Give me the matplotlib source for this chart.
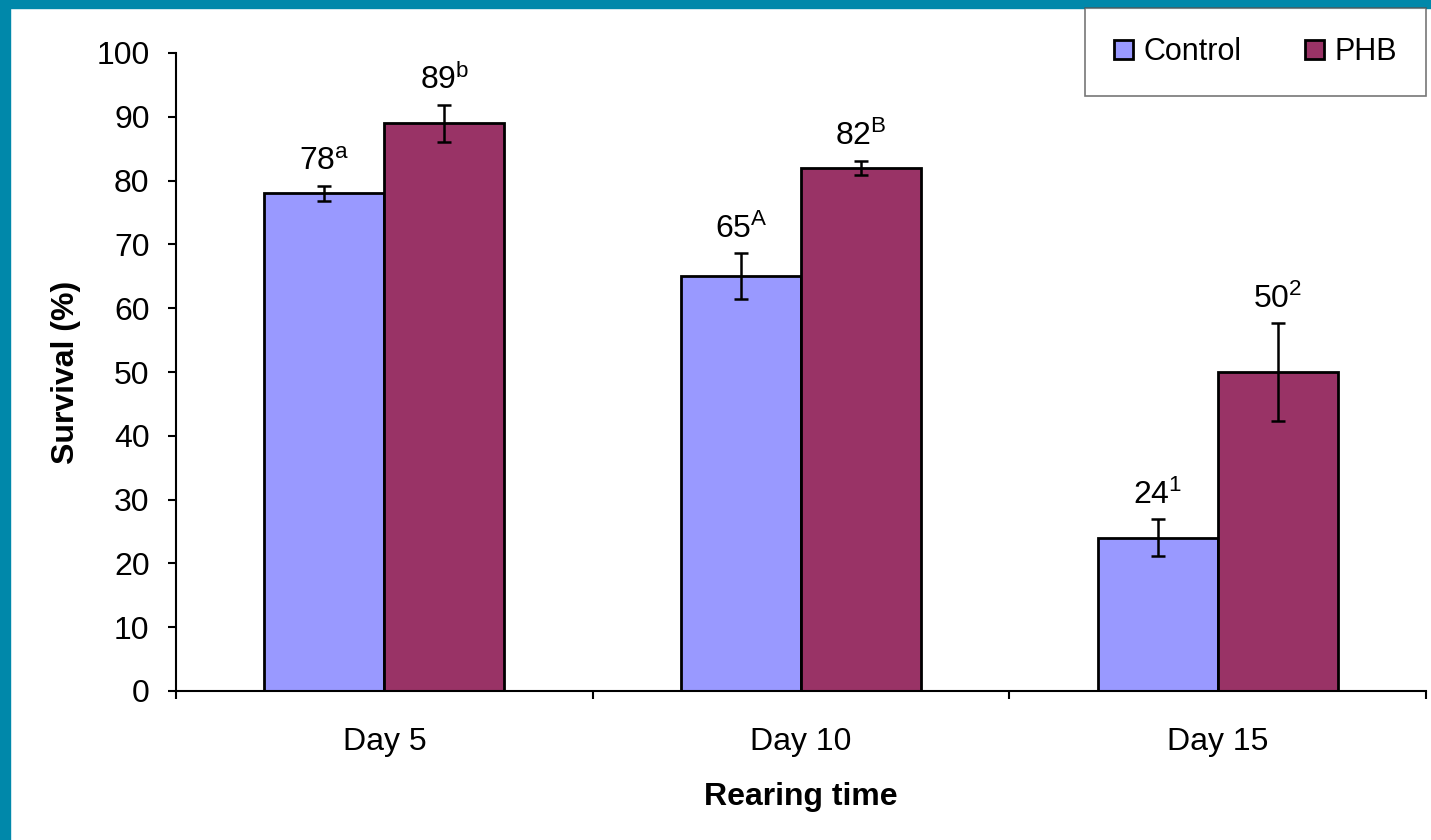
import numpy as np
import matplotlib
matplotlib.use("Agg")
from matplotlib import pyplot as plt
from matplotlib.patches import Rectangle

plt.rcParams['font.family'] = ['Liberation Sans', 'DejaVu Sans']
plt.rcParams['mathtext.fontset'] = 'custom'
plt.rcParams['mathtext.rm'] = 'Liberation Sans'
plt.rcParams['mathtext.it'] = 'Liberation Sans'

# survival data per rearing day
days = ['Day 5', 'Day 10', 'Day 15']
control = [78, 65, 24]
phb = [89, 82, 50]
control_err = [1.2, 3.6, 2.9]
phb_err = [2.9, 1.1, 7.7]
control_marks = ['a', 'A', '1']
phb_marks = ['b', 'B', '2']

fig = plt.figure(figsize=(14.31, 8.40), dpi=100)
ax = fig.add_axes([176 / 1431, 149 / 840, 1250 / 1431, 638 / 840])

# frame band on top and left
teal = '#0088AA'
fig.patches.append(Rectangle((0, 1 - 8 / 840), 1, 8 / 840, transform=fig.transFigure,
                             color=teal, zorder=0))
fig.patches.append(Rectangle((0, 0), 10 / 1431, 1, transform=fig.transFigure,
                             color=teal, zorder=0))

x = np.arange(len(days))
w = 0.288
fs = 23

b1 = ax.bar(x - w / 2, control, w, color='#9999FF', edgecolor='black', linewidth=2,
            label='Control', zorder=2)
b2 = ax.bar(x + w / 2, phb, w, color='#993366', edgecolor='black', linewidth=2,
            label='PHB', zorder=2)
ax.errorbar(x - w / 2, control, yerr=control_err, fmt='none', ecolor='black',
            elinewidth=1.8, capsize=5, capthick=1.8, zorder=3)
ax.errorbar(x + w / 2, phb, yerr=phb_err, fmt='none', ecolor='black',
            elinewidth=1.8, capsize=5, capthick=1.8, zorder=3)

for xs, vals, errs, marks in [(x - w / 2, control, control_err, control_marks),
                              (x + w / 2, phb, phb_err, phb_marks)]:
    for xi, v, e, m in zip(xs, vals, errs, marks):
        ax.annotate(f'{v}$^{{\\mathrm{{{m}}}}}$', (xi, v + e), xytext=(0, 6),
                    textcoords='offset points', ha='center', va='bottom', fontsize=fs)

ax.set_xlim(-0.5, 2.5)
ax.set_ylim(0, 100)
ax.set_yticks(np.arange(0, 101, 10))
ax.set_xticks(x)
ax.set_xticklabels(days)
ax.set_xticks(np.arange(-0.5, 2.6, 1), minor=True)
ax.tick_params(axis='x', which='major', length=0, pad=26, labelsize=fs)
ax.tick_params(axis='x', which='minor', length=6, width=1.5, direction='out')
ax.tick_params(axis='y', length=6, width=1.5, pad=13, labelsize=fs)

for s in ['top', 'right']:
    ax.spines[s].set_visible(False)
for s in ['left', 'bottom']:
    ax.spines[s].set_linewidth(1.5)

ax.set_ylabel('Survival (%)', fontsize=fs, fontweight='bold', labelpad=11)
ax.set_xlabel('Rearing time', fontsize=fs, fontweight='bold', labelpad=18)

leg = fig.legend(handles=[b1, b2], loc='upper right', ncol=2,
                 bbox_to_anchor=(1426 / 1431, 1 - 8 / 840), fontsize=22,
                 fancybox=False, frameon=True, edgecolor='#555555',
                 handlelength=0.6, handleheight=0.6, handletextpad=0.35,
                 columnspacing=2.1, borderpad=0.95, borderaxespad=0)
leg.get_frame().set_linewidth(1.2)

fig.savefig('out.png', dpi=100, facecolor='white')
